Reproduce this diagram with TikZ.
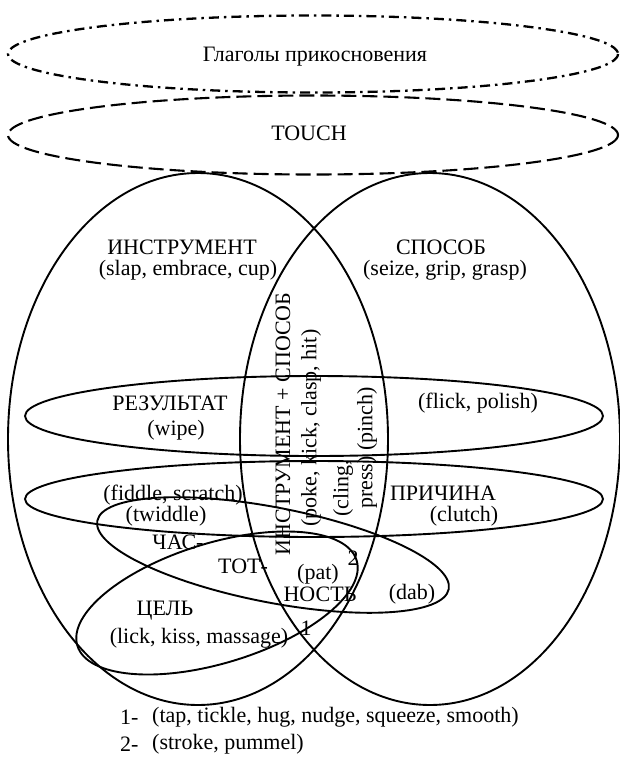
\documentclass[tikz,border=0pt]{standalone}
\usepackage{fontspec}
\setmainfont{Liberation Serif}
\begin{document}
\begin{tikzpicture}[x=1pt,y=-1pt,
  lbl/.style={inner sep=0pt, font=\fontsize{22}{24}\selectfont},
  vlbl/.style={lbl, rotate=90},
  venn/.style={line width=1.9pt},
  dashdotline/.style={line width=2.3pt, dash pattern=on 10pt off 5pt on 2.5pt off 5pt},
  dashline/.style={line width=2.1pt, dash pattern=on 15pt off 6pt}]
\useasboundingbox (0,0) rectangle (620,761);
\fill[white] (0,0) rectangle (620,761);

% top ellipses
\draw[dashdotline] (313,54) ellipse [x radius=305, y radius=38.5];
\draw[dashline] (313,135) ellipse [x radius=305, y radius=39.5];

% big ellipses
\draw[venn] (198,439) ellipse [x radius=190, y radius=266];
\draw[venn] (430,439) ellipse [x radius=190, y radius=266];

% horizontal ellipses
\draw[venn] (314,416) ellipse [x radius=289, y radius=40];
\draw[venn] (314,499) ellipse [x radius=289, y radius=38];

% tilted ellipses
\draw[venn, shift={(273,555)}, rotate=-11] (0,0) ellipse [x radius=179, y radius=47.5];
\draw[venn, shift={(217,603)}, rotate=17] (0,0) ellipse [x radius=146, y radius=60];

% labels
\node[lbl] (glag) at (315,57) {Глаголы прикосновения};
\node[lbl] (touch) at (309,133) {TOUCH};
\node[lbl] (instr) at (182,247) {ИНСТРУМЕНТ};
\node[lbl] (instrv) at (188,270) {(slap, embrace, cup)};
\node[lbl] (spos) at (441,247) {СПОСОБ};
\node[lbl] (sposv) at (445,270) {(seize, grip, grasp)};
\node[lbl] (rez) at (170,403) {РЕЗУЛЬТАТ};
\node[lbl] (rezv) at (176,430) {(wipe)};
\node[lbl] (rezr) at (478,403) {(flick, polish)};
\node[lbl] (fid) at (173,495) {(fiddle, scratch)};
\node[lbl] (twid) at (166,516) {(twiddle)};
\node[lbl] (prich) at (443,493) {ПРИЧИНА};
\node[lbl] (clutch) at (464,516) {(clutch)};
\node[lbl] (chas) at (178,542) {ЧАС-};
\node[lbl] (tot) at (243,566) {ТОТ-};
\node[lbl] (pat) at (318,574) {(pat)};
\node[lbl] (two) at (353,558) {2};
\node[lbl] (nost) at (320,594) {НОСТЬ};
\node[lbl] (dab) at (412,594) {(dab)};
\node[lbl] (cel) at (165,611) {ЦЕЛЬ};
\node[lbl] (celv) at (199,638) {(lick, kiss, massage)};
\node[lbl] (one) at (306,628) {1};

% vertical labels
\node[vlbl] (v1) at (283,424) {ИНСТРУМЕНТ + СПОСОБ};
\node[vlbl] (v2) at (311,428) {(poke, kick, clasp, hit)};
\node[vlbl] (v3) at (343,488) {(cling,};
\node[vlbl] (v4) at (367,448) {press) (pinch)};

% legend
\node[lbl, anchor=west] (l1n) at (120,717) {1-};
\node[lbl, anchor=west] (l1t) at (152,717) {(tap, tickle, hug, nudge, squeeze, smooth)};
\node[lbl, anchor=west] (l2n) at (120,744) {2-};
\node[lbl, anchor=west] (l2t) at (152,744) {(stroke, pummel)};
\end{tikzpicture}
\end{document}
